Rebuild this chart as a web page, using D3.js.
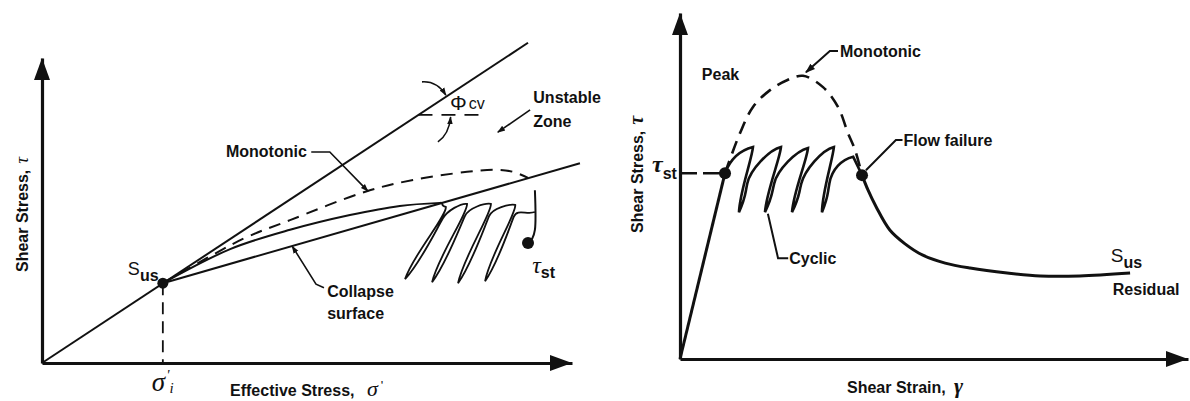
<!DOCTYPE html>
<html>
<head>
<meta charset="utf-8">
<script src="https://cdn.jsdelivr.net/npm/d3@7"></script>
<style>
  html, body { margin: 0; padding: 0; background: #fff; }
  svg { display: block; }
  text { font-family: "Liberation Sans", Arial, sans-serif; font-weight: bold; font-size: 16px; fill: #111; }
  .greek { font-family: "Liberation Serif", "DejaVu Serif", serif; font-style: italic; font-weight: bold; }
</style>
</head>
<body>
<svg id="chart" width="1190" height="401"></svg>
<script>
// ---------- Left panel: stress path in effective-stress space ----------
const cslLine = [[0, 0], [9.17, 6.30]];                 // steady-state (phi_cv) line
const susPoint = [2.28, 1.57];                           // undrained steady-state strength
const collapseSurface = [[2.28, 1.57], [10.15, 3.93]];
const monotonicPathL = [[2.28, 1.57], [3.79, 2.44], [4.68, 2.81], [6.13, 3.38], [7.00, 3.60],
                        [8.02, 3.76], [8.58, 3.80], [8.89, 3.76], [9.17, 3.64]];
const undrainedPathL = [[2.28, 1.57], [3.55, 2.24], [4.68, 2.62], [5.81, 2.91], [6.75, 3.09], [7.51, 3.15]];
const cyclicPeaksL = [[7.62, 3.07], [8.02, 3.13], [8.47, 3.13], [8.93, 3.11]];
const cyclicTroughsL = [[6.85, 1.65], [7.36, 1.59], [7.85, 1.57], [8.36, 1.61]];
const cyclicEndL = [9.30, 2.97];
const tauStMarkL = [[9.30, 3.40], [9.30, 2.62], [9.25, 2.45], [9.17, 2.36]];
const tauStPointL = [9.17, 2.36];

// ---------- Right panel: shear stress vs shear strain ----------
const tauSt = 3.76;
const elasticLine = [[0, 0], [0.886, tauSt]];
const monotonicCurveR = [[0.886, 3.76], [1.181, 4.57], [1.437, 5.10], [1.772, 5.44], [2.106, 5.64],
                         [2.421, 5.73], [2.815, 5.50], [3.110, 5.10], [3.307, 4.57], [3.445, 4.23], [3.583, 3.72]];
const cyclicPeaksR = [[1.437, 4.29], [1.988, 4.29], [2.52, 4.27], [3.03, 4.29], [3.41, 4.09]];
const cyclicTroughsR = [[1.161, 2.97], [1.673, 2.97], [2.205, 2.97], [2.795, 2.97]];
const flowFailure = [3.583, 3.72];
const postFailure = [[3.583, 3.72], [3.70, 3.42], [3.86, 3.08], [4.13, 2.61], [4.43, 2.33], [4.78, 2.10],
                     [5.22, 1.94], [5.71, 1.84], [6.44, 1.74], [7.09, 1.68], [7.87, 1.68], [8.86, 1.74]];

const svg = d3.select("#chart");
const ink = "#111";

const xL = d3.scaleLinear().domain([0, 10]).range([42, 572]);
const yL = d3.scaleLinear().domain([0, 6]).range([363, 58]);
const xR = d3.scaleLinear().domain([0, 10]).range([680, 1188]);
const yR = d3.scaleLinear().domain([0, 7]).range([359, 13]);

// arrowhead marker for leader lines
const defs = svg.append("defs");
defs.append("marker").attr("id", "tip")
  .attr("viewBox", "0 0 10 10").attr("refX", 9).attr("refY", 5)
  .attr("markerWidth", 5).attr("markerHeight", 5).attr("markerUnits", "strokeWidth")
  .attr("orient", "auto")
  .append("path").attr("d", "M0,1.5L10,5L0,8.5Z").attr("fill", ink);

function lineOf(xs, ys, curve) {
  return d3.line().x(d => xs(d[0])).y(d => ys(d[1])).curve(curve || d3.curveLinear);
}

function drawAxes(g, xs, ys) {
  const [x0, x1] = xs.range();
  const [y0, y1] = ys.range();
  g.append("g").attr("transform", `translate(0,${y0})`)
    .call(d3.axisBottom(xs).tickValues([]).tickSizeOuter(0))
    .select(".domain").attr("stroke", ink).attr("stroke-width", 3.2);
  g.append("g").attr("transform", `translate(${x0},0)`)
    .call(d3.axisLeft(ys).tickValues([]).tickSizeOuter(0))
    .select(".domain").attr("stroke", ink).attr("stroke-width", 3.2);
  g.append("path").attr("d", `M${x1},${y0}L${x1 - 22},${y0 - 8}L${x1 - 22},${y0 + 8}Z`).attr("fill", ink);
  g.append("path").attr("d", `M${x0},${y1}L${x0 - 8},${y1 + 22}L${x0 + 8},${y1 + 22}Z`).attr("fill", ink);
}

// cyclic loading loops: each cycle descends from a peak to a trough, climbs back
// along the other side of a thin lens, then arches over to the next peak
function cyclePath(xs, ys, start, peaks, troughs, end, o) {
  const p = d3.path();
  const P = peaks.map(d => [xs(d[0]), ys(d[1])]);
  const T = troughs.map(d => [xs(d[0]), ys(d[1])]);
  const S = [xs(start[0]), ys(start[1])];
  const E = [xs(end[0]), ys(end[1])];
  p.moveTo(S[0], S[1]);
  p.bezierCurveTo(S[0] + o.lead[0], S[1] + o.lead[1], P[0][0] + o.arrive[0], P[0][1] + o.arrive[1], P[0][0], P[0][1]);
  for (let i = 0; i < T.length; i++) {
    const a = P[i], t = T[i];
    const dx = a[0] - t[0], dy = a[1] - t[1];
    const L = Math.hypot(dx, dy), ux = dx / L, uy = dy / L;
    const nl = [uy, -ux], nr = [-uy, ux];
    p.bezierCurveTo(a[0] + o.leave[0], a[1] + o.leave[1],
      t[0] + ux * L * o.down + nl[0] * o.w, t[1] + uy * L * o.down + nl[1] * o.w,
      t[0], t[1]);
    const q = [t[0] + ux * L * o.q + nr[0] * o.w * 0.6, t[1] + uy * L * o.q + nr[1] * o.w * 0.6];
    p.bezierCurveTo(t[0] + ux * L * 0.25 + nr[0] * o.w, t[1] + uy * L * 0.25 + nr[1] * o.w,
      q[0] - ux * L * 0.2, q[1] - uy * L * 0.2, q[0], q[1]);
    const nxt = i + 1 < P.length ? P[i + 1] : E;
    const arr = i + 1 < P.length ? o.arrive : o.arriveEnd;
    p.bezierCurveTo(q[0] + ux * o.k, q[1] + uy * o.k, nxt[0] + arr[0], nxt[1] + arr[1], nxt[0], nxt[1]);
  }
  if (P.length > T.length) p.lineTo(E[0], E[1]);
  return p.toString();
}

// ================= Left panel =================
const gL = svg.append("g");
drawAxes(gL, xL, yL);

gL.append("path").attr("d", lineOf(xL, yL)(cslLine)).attr("fill", "none").attr("stroke", ink).attr("stroke-width", 2);
gL.append("path").attr("d", lineOf(xL, yL)(collapseSurface)).attr("fill", "none").attr("stroke", ink).attr("stroke-width", 2);
gL.append("path").attr("d", lineOf(xL, yL, d3.curveCatmullRom)(monotonicPathL))
  .attr("fill", "none").attr("stroke", ink).attr("stroke-width", 2).attr("stroke-dasharray", "12,8");
gL.append("path").attr("d", lineOf(xL, yL, d3.curveCatmullRom)(undrainedPathL))
  .attr("fill", "none").attr("stroke", ink).attr("stroke-width", 2);
gL.append("path")
  .attr("d", cyclePath(xL, yL, undrainedPathL[undrainedPathL.length - 1], cyclicPeaksL, cyclicTroughsL, cyclicEndL,
    { lead: [4, -1], arrive: [-6, -1], arriveEnd: [-8, 3], leave: [1, 9], down: 0.3, q: 0.86, k: 9, w: 5 }))
  .attr("fill", "none").attr("stroke", ink).attr("stroke-width", 1.8);
gL.append("path").attr("d", lineOf(xL, yL, d3.curveCatmullRom)(tauStMarkL))
  .attr("fill", "none").attr("stroke", ink).attr("stroke-width", 2);
gL.append("circle").attr("cx", xL(tauStPointL[0])).attr("cy", yL(tauStPointL[1])).attr("r", 6).attr("fill", ink);

// projection of S_us onto the effective-stress axis
gL.append("line").attr("x1", xL(susPoint[0])).attr("x2", xL(susPoint[0]))
  .attr("y1", yL(susPoint[1])).attr("y2", yL(0))
  .attr("stroke", ink).attr("stroke-width", 1.8).attr("stroke-dasharray", "12,7");
gL.append("circle").attr("cx", xL(susPoint[0])).attr("cy", yL(susPoint[1])).attr("r", 5.5).attr("fill", ink);

// friction angle annotation
const yPhi = 4.88;
const xPhi0 = yPhi * cslLine[1][0] / cslLine[1][1];
gL.append("line").attr("x1", xL(xPhi0)).attr("x2", xL(8.28)).attr("y1", yL(yPhi)).attr("y2", yL(yPhi))
  .attr("stroke", ink).attr("stroke-width", 1.8).attr("stroke-dasharray", "14,9");
gL.append("path").attr("d", `M${xL(7.17)},${yL(5.53)}Q${xL(7.45)},${yL(5.55)} ${xL(7.62)},${yL(5.27)}`)
  .attr("fill", "none").attr("stroke", ink).attr("stroke-width", 1.6).attr("marker-end", "url(#tip)");
gL.append("path").attr("d", `M${xL(7.47)},${yL(4.35)}Q${xL(7.68)},${yL(4.5)} ${xL(7.71)},${yL(4.84)}`)
  .attr("fill", "none").attr("stroke", ink).attr("stroke-width", 1.6).attr("marker-end", "url(#tip)");
const phi = gL.append("text").attr("x", xL(7.70)).attr("y", yL(4.98)).style("font-weight", "normal");
phi.append("tspan").style("font-size", "21px").text("Φ");
phi.append("tspan").attr("dx", 2).attr("dy", -1).style("font-size", "16px").text("cv");

// Unstable zone
gL.append("text").attr("x", xL(9.27)).attr("y", yL(5.12)).text("Unstable");
gL.append("text").attr("x", xL(9.27)).attr("y", yL(4.64)).text("Zone");
gL.append("line").attr("x1", xL(9.21)).attr("y1", yL(4.98)).attr("x2", xL(8.60)).attr("y2", yL(4.54))
  .attr("stroke", ink).attr("stroke-width", 1.6).attr("marker-end", "url(#tip)");

// Monotonic leader
gL.append("text").attr("x", xL(3.47)).attr("y", yL(4.05)).text("Monotonic");
gL.append("path").attr("d", lineOf(xL, yL)([[5.08, 4.15], [5.43, 4.15], [6.15, 3.38]]))
  .attr("fill", "none").attr("stroke", ink).attr("stroke-width", 1.6).attr("marker-end", "url(#tip)");

// Collapse surface leader
gL.append("text").attr("x", xL(5.38)).attr("y", yL(1.30)).text("Collapse");
gL.append("text").attr("x", xL(5.38)).attr("y", yL(0.87)).text("surface");
gL.append("path").attr("d", lineOf(xL, yL)([[5.32, 1.48], [5.17, 1.55], [4.72, 2.30]]))
  .attr("fill", "none").attr("stroke", ink).attr("stroke-width", 1.6).attr("marker-end", "url(#tip)");

// S_us and tau_st labels
const susL = gL.append("text").attr("x", xL(1.62)).attr("y", yL(1.73));
susL.append("tspan").style("font-size", "18px").style("font-weight", "normal").text("S");
susL.append("tspan").attr("dy", 6).style("font-size", "16px").text("us");
const tstL = gL.append("text").attr("x", xL(9.25)).attr("y", yL(1.77));
tstL.append("tspan").attr("class", "greek").style("font-size", "24px").style("font-weight", "normal").text("τ");
tstL.append("tspan").attr("dy", 5).style("font-size", "16px").text("st");

// sigma'_i under the axis
const sgi = gL.append("text").attr("x", xL(susPoint[0]) - 11).attr("y", 391).attr("class", "greek")
  .style("font-weight", "normal");
sgi.append("tspan").style("font-size", "27px").text("σ");
sgi.append("tspan").attr("dx", 1).attr("dy", -11).style("font-size", "15px").text("'");
sgi.append("tspan").attr("dx", 0).attr("dy", 13).style("font-size", "15px").text("i");

// axis titles
const xtL = gL.append("text").attr("x", 230).attr("y", 396);
xtL.append("tspan").text("Effective Stress,");
xtL.append("tspan").attr("x", 367).attr("class", "greek").style("font-size", "22px").style("font-weight", "normal").text("σ");
xtL.append("tspan").attr("dx", 3).attr("dy", -6).style("font-size", "13px").style("font-weight", "normal").text("'");
const ytL = gL.append("text").attr("transform", "translate(28,272) rotate(-90)");
ytL.append("tspan").text("Shear Stress,");
ytL.append("tspan").attr("dx", 6).attr("class", "greek").style("font-size", "19px").style("font-weight", "normal").text("τ");

// ================= Right panel =================
const gR = svg.append("g");
drawAxes(gR, xR, yR);

gR.append("path").attr("d", lineOf(xR, yR)(elasticLine)).attr("fill", "none").attr("stroke", ink).attr("stroke-width", 3);
gR.append("line").attr("x1", xR(0)).attr("x2", xR(elasticLine[1][0])).attr("y1", yR(tauSt)).attr("y2", yR(tauSt))
  .attr("stroke", ink).attr("stroke-width", 2.5).attr("stroke-dasharray", "17,6");
gR.append("path").attr("d", lineOf(xR, yR, d3.curveCatmullRom)(monotonicCurveR))
  .attr("fill", "none").attr("stroke", ink).attr("stroke-width", 2.6).attr("stroke-dasharray", "13,8");
gR.append("path")
  .attr("d", cyclePath(xR, yR, elasticLine[1], cyclicPeaksR, cyclicTroughsR, flowFailure,
    { lead: [6, -16], arrive: [-12, 3], arriveEnd: [-10, 2], leave: [-1, 12], down: 0.3, q: 0.45, k: 14, w: 3.5 }))
  .attr("fill", "none").attr("stroke", ink).attr("stroke-width", 2.6);
gR.append("path").attr("d", lineOf(xR, yR, d3.curveCatmullRom)(postFailure))
  .attr("fill", "none").attr("stroke", ink).attr("stroke-width", 3);
gR.append("circle").attr("cx", xR(elasticLine[1][0])).attr("cy", yR(tauSt)).attr("r", 6).attr("fill", ink);
gR.append("circle").attr("cx", xR(flowFailure[0])).attr("cy", yR(flowFailure[1])).attr("r", 6).attr("fill", ink);

// labels and leaders
gR.append("text").attr("x", xR(0.43)).attr("y", yR(5.64)).text("Peak");
gR.append("text").attr("x", xR(3.15)).attr("y", yR(6.11)).text("Monotonic");
gR.append("path").attr("d", lineOf(xR, yR)([[3.11, 6.23], [2.95, 6.23], [2.48, 5.80]]))
  .attr("fill", "none").attr("stroke", ink).attr("stroke-width", 2).attr("marker-end", "url(#tip)");
gR.append("text").attr("x", xR(4.40)).attr("y", yR(4.31)).text("Flow failure");
gR.append("path").attr("d", lineOf(xR, yR)([[4.38, 4.43], [4.25, 4.43], [3.66, 3.82]]))
  .attr("fill", "none").attr("stroke", ink).attr("stroke-width", 2);
gR.append("text").attr("x", xR(2.15)).attr("y", yR(1.92)).text("Cyclic");
gR.append("path").attr("d", lineOf(xR, yR)([[2.13, 2.04], [1.93, 2.04], [1.73, 2.94]]))
  .attr("fill", "none").attr("stroke", ink).attr("stroke-width", 2);
const susR = gR.append("text").attr("x", xR(8.48)).attr("y", yR(1.97));
susR.append("tspan").style("font-size", "19px").style("font-weight", "normal").text("S");
susR.append("tspan").attr("dy", 6).style("font-size", "16px").text("us");
gR.append("text").attr("x", xR(8.52)).attr("y", yR(1.30)).text("Residual");

const tstR = gR.append("text").attr("x", 652).attr("y", 172);
tstR.append("tspan").attr("class", "greek").style("font-size", "24px").text("τ");
tstR.append("tspan").attr("dy", 7).style("font-size", "16px").text("st");

const xtR = gR.append("text").attr("x", 847).attr("y", 393);
xtR.append("tspan").text("Shear Strain,");
xtR.append("tspan").attr("x", 954).attr("class", "greek").style("font-size", "22px").text("γ");
const ytR = gR.append("text").attr("transform", "translate(643,233) rotate(-90)");
ytR.append("tspan").text("Shear Stress,");
ytR.append("tspan").attr("dx", 6).attr("class", "greek").style("font-size", "20px").text("τ");
</script>
</body>
</html>
